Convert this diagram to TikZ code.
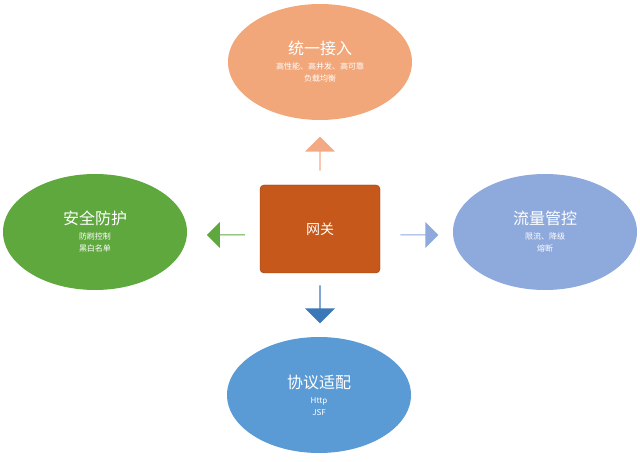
\documentclass[tikz,border=0pt]{standalone}
\usepackage{fontspec}
\newfontfamily\cjk{Noto Sans CJK SC}
\usetikzlibrary{shapes.arrows,shapes.geometric}
\definecolor{cTop}{HTML}{F2A77A}
\definecolor{cLeft}{HTML}{5FA83E}
\definecolor{cRight}{HTML}{8EA9DB}
\definecolor{cBot}{HTML}{5B9BD5}
\definecolor{cMid}{HTML}{C5581A}
\definecolor{cArrUp}{HTML}{F4A985}
\definecolor{cArrDn}{HTML}{3A78B8}
\tikzset{
  blob/.style={ellipse,minimum width=184pt,minimum height=116pt,inner sep=0pt,text=white,align=center,font=\cjk},
  barrow/.style={single arrow,minimum height=38pt,minimum width=30pt,single arrow head extend=5pt,inner sep=0pt,draw=none},
  ttl/.style={font=\cjk\fontsize{16}{18}\selectfont},
  sub/.style={font=\cjk\fontsize{8}{10}\selectfont}
}
\begin{document}
\begin{tikzpicture}[x=1pt,y=-1pt]
\useasboundingbox (0,0) rectangle (640,462);
\node[blob,fill=cTop] (top) at (320,62) {{\fontsize{16}{18}\selectfont 统一接入}\\[3pt]{\fontsize{8}{14}\selectfont 高性能、高并发、高可靠}\\{\fontsize{8}{12}\selectfont 负载均衡}};
\node[blob,fill=cLeft] (left) at (95,232) {{\fontsize{16}{18}\selectfont 安全防护}\\[3pt]{\fontsize{8}{14}\selectfont 防刷控制}\\{\fontsize{8}{12}\selectfont 黑白名单}};
\node[blob,fill=cRight] (right) at (545,232) {{\fontsize{16}{18}\selectfont 流量管控}\\[3pt]{\fontsize{8}{14}\selectfont 限流、降级}\\{\fontsize{8}{12}\selectfont 熔断}};
\node[blob,fill=cBot] (bot) at (319,395) {{\fontsize{16}{18}\selectfont 协议适配}\\[3pt]{\fontsize{8}{14}\selectfont Http}\\{\fontsize{8}{12}\selectfont JSF}};
\node[draw=cMid!70!black,fill=cMid,rounded corners=4pt,minimum width=120pt,minimum height=88pt,text=white,font=\cjk\fontsize{14}{16}\selectfont] (mid) at (320,229) {网关};
\node[barrow,fill=cArrUp,rotate=90,minimum height=34pt] (au) at (320,154) {};
\node[barrow,fill=cLeft,rotate=180,minimum height=38pt,minimum width=26pt] (al) at (226,235) {};
\node[barrow,fill=cRight,minimum height=38pt,minimum width=26pt] (ar) at (419,235) {};
\node[barrow,fill=cArrDn,rotate=-90,minimum height=38pt] (ad) at (320,304) {};
\end{tikzpicture}
\end{document}
